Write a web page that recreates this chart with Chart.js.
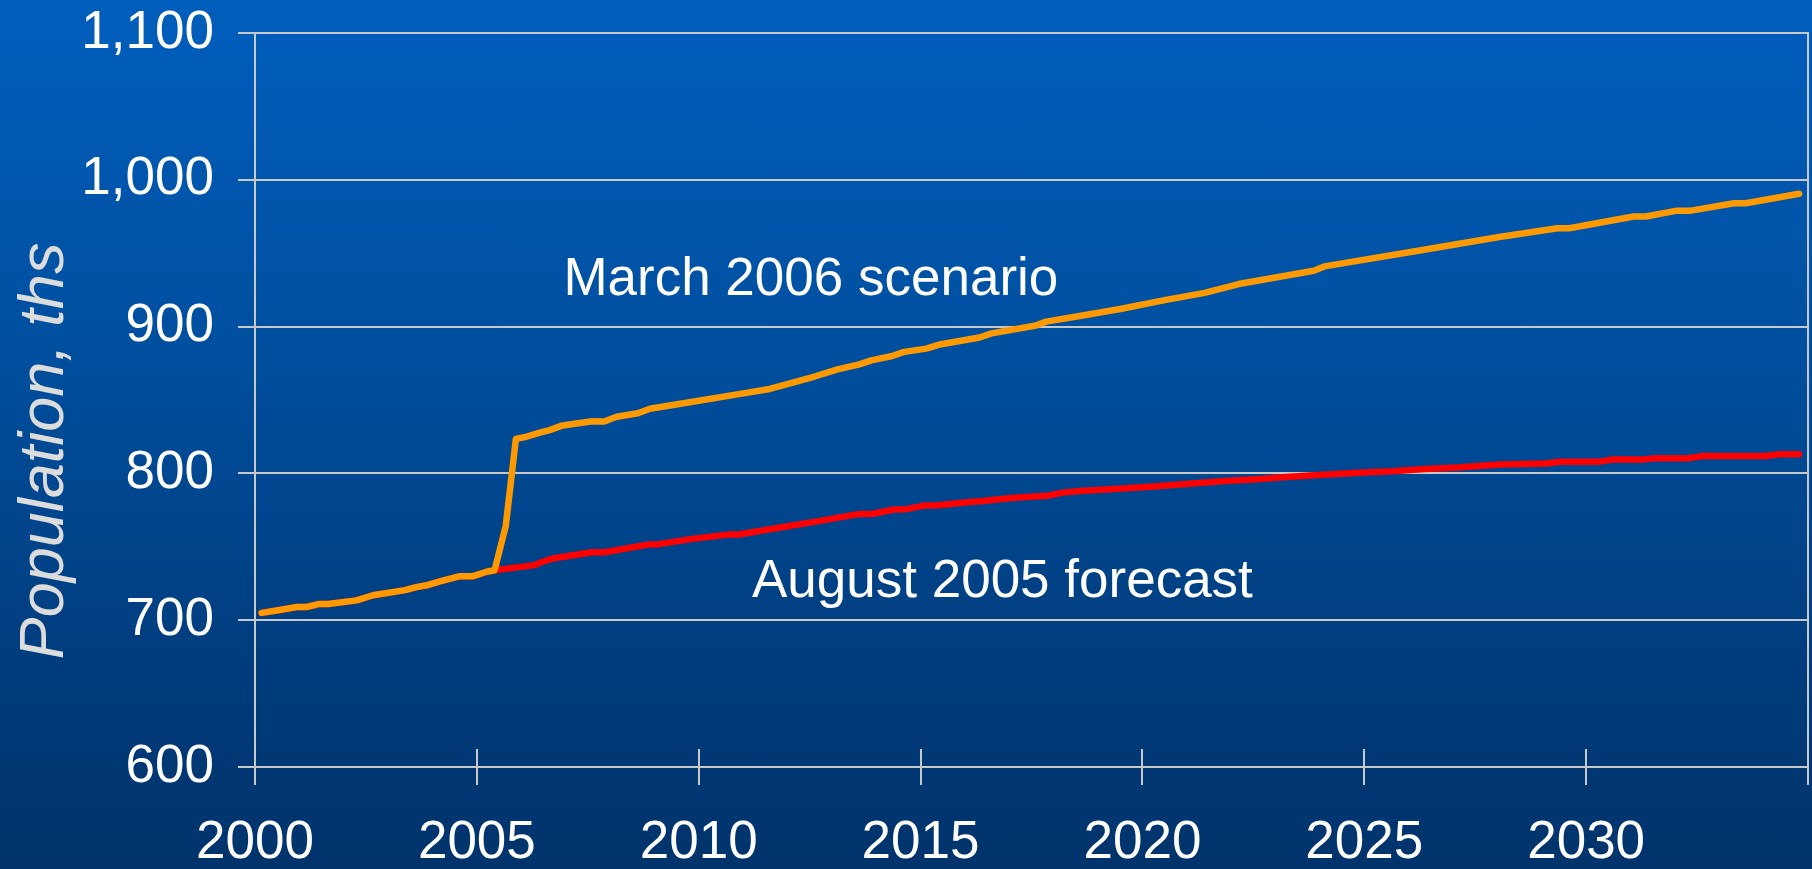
<!DOCTYPE html>
<html lang="en">
<head>
<meta charset="UTF-8">
<title>Population, March 2006 scenario and August 2005 forecast</title>
<style>
    html, body {
        margin: 0;
        padding: 0;
    }
    body {
        width: 1812px;
        height: 869px;
        overflow: hidden;
        background: linear-gradient(to bottom, #005ebc 0%, #004f9f 40%, #003d7e 75%, #00336b 100%);
    }
    canvas {
        display: block;
    }
</style>
</head>
<body>
<canvas id="popChart" width="1812" height="869"></canvas>

<script src="https://cdn.jsdelivr.net/npm/chart.js@4"></script>
<script>
    // Common history up to the 2005 split (both series share it)
    const historyYears = [2000.15, 2000.56, 2000.94, 2001.16, 2001.43, 2001.65, 2002.29, 2002.66, 2003.38, 2003.64,
        2003.9, 2004.17, 2004.62, 2004.92, 2005.22, 2005.4];
    const historyValues = [705, 707, 709, 709, 711, 711, 713.5, 717, 720.5, 722.5,
        724, 726.5, 730, 730, 733, 734];

    // March 2006 scenario
    const scenarioYears = [2005.65, 2005.88, 2006.12, 2006.42, 2006.64, 2006.9, 2007.6, 2007.87, 2008.15, 2008.63,
        2008.9, 2010.0, 2010.8, 2011.6, 2012.14, 2012.61, 2013.15, 2013.62, 2013.89, 2014.36,
        2014.63, 2015.13, 2015.4, 2016.33, 2016.6, 2017.6, 2017.83, 2018.55, 2019.5, 2020.5,
        2021.4, 2022.17, 2023.86, 2024.1, 2026.28, 2028.04, 2029.35, 2029.62, 2031.07, 2031.34,
        2032.05, 2032.36, 2033.33, 2033.6, 2034.8];
    const scenarioValues = [764, 823.5, 825, 827.7, 829.5, 832.4, 835.5, 835.3, 838.6, 841,
        844, 849.5, 853.5, 857.5, 862, 866, 871, 874.3, 877, 880,
        882.8, 885, 887.6, 892.6, 895.4, 900.7, 903.4, 907, 912, 918,
        923, 929, 938, 941, 952, 961, 967, 967, 975, 975,
        979, 979, 984, 984, 990.5];

    // August 2005 forecast
    const forecastYears = [2006.3, 2006.45, 2006.7, 2007.6, 2007.88, 2008.85, 2009.1, 2009.85, 2010.65, 2010.9,
        2011.8, 2012.7, 2013.62, 2013.93, 2014.4, 2014.65, 2015.1, 2015.4, 2016.1, 2016.4,
        2017.1, 2017.85, 2018.2, 2018.6, 2019.45, 2020.25, 2021.05, 2021.85, 2022.58, 2023.24,
        2024.06, 2024.88, 2025.62, 2026.36, 2027.1, 2028.05, 2029.1, 2029.4, 2030.3, 2030.6,
        2031.27, 2031.57, 2032.32, 2032.62, 2034.05, 2034.35, 2034.8];
    const forecastValues = [737.5, 739.5, 742, 746.3, 746.3, 751.5, 751.8, 755.4, 758.3, 758.4,
        763, 767.5, 772.4, 772.5, 775.4, 775.5, 778.2, 778.3, 780.5, 781.2,
        783.4, 784.7, 786.9, 788, 789.5, 791, 793, 794.8, 796, 797.5,
        799, 800.5, 801.5, 803, 804, 806, 806.8, 808, 808, 809.5,
        809.5, 810.4, 810.4, 811.8, 811.8, 813, 813];

    // Axis ticks
    const yearTicks = [2000, 2005, 2010, 2015, 2020, 2025, 2030, 2035];
    const populationTicks = [600, 700, 800, 900, 1000, 1100];

    const FONT = '"Liberation Sans", Arial, sans-serif';
    const gridColor = '#c8c8c8';

    function toPoints(xs, ys) {
        return xs.map((x, i) => ({ x: x, y: ys[i] }));
    }

    // Extra drawing: right frame edge, upward half of the year ticks, axis title, series labels
    const overlay = {
        id: 'overlay',
        beforeDatasetsDraw(chart) {
            const { ctx, chartArea } = chart;
            const xs = chart.scales.x;
            ctx.save();
            ctx.strokeStyle = gridColor;
            ctx.lineWidth = 2;
            ctx.beginPath();
            const right = Math.round(chartArea.right);
            ctx.moveTo(right, chartArea.top - 1);
            ctx.lineTo(right, chartArea.bottom);
            yearTicks.forEach(year => {
                const px = Math.round(xs.getPixelForValue(year));
                ctx.moveTo(px, chartArea.bottom);
                ctx.lineTo(px, chartArea.bottom - 18);
            });
            ctx.stroke();
            ctx.restore();
        },
        afterDraw(chart) {
            const { ctx } = chart;
            const xs = chart.scales.x;
            const ys = chart.scales.y;
            ctx.save();

            // y axis title
            ctx.fillStyle = '#dcdcdc';
            ctx.font = 'italic 63px ' + FONT;
            ctx.textAlign = 'center';
            ctx.textBaseline = 'alphabetic';
            ctx.translate(63, 451);
            ctx.rotate(-Math.PI / 2);
            ctx.fillText('Population, ths', 0, 0);
            ctx.setTransform(1, 0, 0, 1, 0, 0);

            // series labels
            ctx.fillStyle = '#ffffff';
            ctx.font = '53px ' + FONT;
            ctx.textAlign = 'left';
            ctx.fillText('March 2006 scenario', xs.getPixelForValue(2006.95), ys.getPixelForValue(921.5));
            ctx.fillText('August 2005 forecast', xs.getPixelForValue(2011.2), ys.getPixelForValue(716));
            ctx.restore();
        }
    };

    const ctx = document.getElementById('popChart').getContext('2d');
    new Chart(ctx, {
        type: 'line',
        data: {
            datasets: [
                {
                    label: 'March 2006 scenario',
                    data: toPoints(historyYears.concat(scenarioYears), historyValues.concat(scenarioValues)),
                    borderColor: '#ff9900',
                    borderWidth: 6.5,
                    borderCapStyle: 'round',
                    borderJoinStyle: 'round',
                    pointRadius: 0,
                    tension: 0
                },
                {
                    label: 'August 2005 forecast',
                    data: toPoints(historyYears.concat(forecastYears), historyValues.concat(forecastValues)),
                    borderColor: '#ff0000',
                    borderWidth: 6.5,
                    borderCapStyle: 'round',
                    borderJoinStyle: 'round',
                    pointRadius: 0,
                    tension: 0
                }
            ]
        },
        options: {
            responsive: false,
            animation: false,
            layout: {
                padding: { top: 33, right: 4, bottom: 0, left: 0 }
            },
            plugins: {
                legend: { display: false },
                tooltip: { enabled: false }
            },
            scales: {
                x: {
                    type: 'linear',
                    min: 2000,
                    max: 2035,
                    afterBuildTicks: scale => {
                        scale.ticks = yearTicks.map(v => ({ value: v }));
                    },
                    afterFit: scale => {
                        scale.height = 102;
                        scale.paddingLeft = 0;
                        scale.paddingRight = 0;
                    },
                    ticks: {
                        color: '#ffffff',
                        font: { family: FONT, size: 53 },
                        padding: 27,
                        maxRotation: 0,
                        autoSkip: false,
                        callback: v => (v === 2035 ? '' : String(v))
                    },
                    grid: {
                        drawOnChartArea: false,
                        color: gridColor,
                        lineWidth: 2,
                        tickLength: 18
                    },
                    border: { color: gridColor, width: 2 }
                },
                y: {
                    min: 600,
                    max: 1100,
                    afterBuildTicks: scale => {
                        scale.ticks = populationTicks.map(v => ({ value: v }));
                    },
                    afterFit: scale => {
                        scale.width = 255;
                        scale.paddingTop = 0;
                        scale.paddingBottom = 0;
                    },
                    ticks: {
                        color: '#ffffff',
                        font: { family: FONT, size: 53 },
                        padding: 24,
                        callback: v => v.toLocaleString('en-US')
                    },
                    grid: {
                        color: gridColor,
                        lineWidth: 2,
                        tickLength: 17
                    },
                    border: { color: gridColor, width: 2 }
                }
            }
        },
        plugins: [overlay]
    });
</script>
</body>
</html>
